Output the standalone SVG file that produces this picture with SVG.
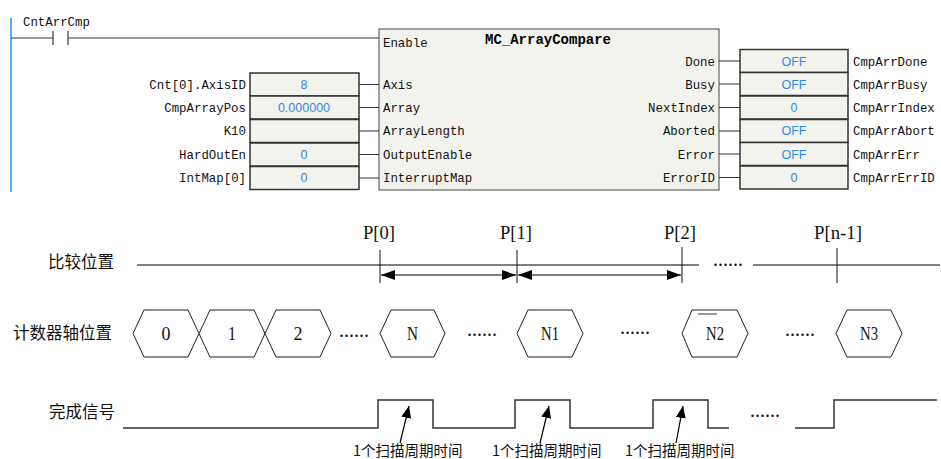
<svg xmlns="http://www.w3.org/2000/svg" width="941" height="459" viewBox="0 0 941 459">
<defs>
<style>
.mono{font-family:"Liberation Mono","DejaVu Sans Mono",monospace;font-size:12.4px;fill:#111}
.title{font-family:"Liberation Mono","DejaVu Sans Mono",monospace;font-size:14px;font-weight:bold;fill:#000}
.val{font-family:"Liberation Sans",Arial,sans-serif;font-size:12.5px;fill:#2f8ae8;text-anchor:middle}
.box{fill:#f3f3ee;stroke:#333;stroke-width:1.5}
.wire{stroke:#333;stroke-width:1;fill:none}
.cjk{font-family:"Noto Sans CJK SC","Noto Sans",sans-serif;font-size:16.5px;fill:#111}
.cjks{font-family:"Noto Sans CJK SC","Noto Sans",sans-serif;font-size:14.5px;fill:#111}
.ser{font-family:"Liberation Serif","Times New Roman",serif;font-size:19px;fill:#111;text-anchor:middle}
.dots{font-family:"Liberation Serif","Times New Roman",serif;font-size:20px;fill:#111}
.hex{fill:#fff;stroke:#222;stroke-width:1}
.tick{stroke:#111;stroke-width:1}
</style>
<marker id="ah" viewBox="0 0 14 10" refX="14" refY="5" markerWidth="14" markerHeight="10" markerUnits="userSpaceOnUse" orient="auto-start-reverse">
<path d="M0,0 L14,5 L0,10 Z" fill="#000"/>
</marker>
<marker id="ah2" viewBox="0 0 12 10" refX="12" refY="5" markerWidth="12" markerHeight="10" markerUnits="userSpaceOnUse" orient="auto">
<path d="M0,0 L12,5 L0,10 Z" fill="#000"/>
</marker>
</defs>
<rect width="941" height="459" fill="#fff"/>

<!-- Ladder -->
<g id="rail">
<line x1="11" y1="18" x2="11" y2="192" stroke="#1e90ff" stroke-width="1.5"/>
</g>
<g id="contact">
<text class="mono" x="23" y="26">CntArrCmp</text>
<line x1="53" y1="31" x2="53" y2="45" class="tick"/>
<line x1="68" y1="31" x2="68" y2="45" class="tick"/>
</g>

<g id="connectors">
<line class="wire" x1="11" y1="38" x2="53" y2="38"/>
<line class="wire" x1="68" y1="38" x2="379" y2="38"/>
<line class="wire" x1="359" y1="84.5" x2="379" y2="84.5"/>
<line class="wire" x1="359" y1="107.5" x2="379" y2="107.5"/>
<line class="wire" x1="359" y1="131" x2="379" y2="131"/>
<line class="wire" x1="359" y1="154.5" x2="379" y2="154.5"/>
<line class="wire" x1="359" y1="178" x2="379" y2="178"/>
<line class="wire" x1="719" y1="61" x2="740" y2="61"/>
<line class="wire" x1="719" y1="84" x2="740" y2="84"/>
<line class="wire" x1="719" y1="107.5" x2="740" y2="107.5"/>
<line class="wire" x1="719" y1="131" x2="740" y2="131"/>
<line class="wire" x1="719" y1="154" x2="740" y2="154"/>
<line class="wire" x1="719" y1="177.5" x2="740" y2="177.5"/>
</g>

<g id="fb">
<rect x="379" y="29" width="340" height="161" fill="#f3f3ee" stroke="#444" stroke-width="1"/>
<text class="title" x="548" y="44" text-anchor="middle">MC_ArrayCompare</text>
<text class="mono" x="383" y="47">Enable</text>
<text class="mono" x="383" y="89">Axis</text>
<text class="mono" x="383" y="112">Array</text>
<text class="mono" x="383" y="135">ArrayLength</text>
<text class="mono" x="383" y="159">OutputEnable</text>
<text class="mono" x="383" y="182">InterruptMap</text>
<g text-anchor="end">
<text class="mono" x="715" y="66">Done</text>
<text class="mono" x="715" y="89">Busy</text>
<text class="mono" x="715" y="112">NextIndex</text>
<text class="mono" x="715" y="135">Aborted</text>
<text class="mono" x="715" y="159">Error</text>
<text class="mono" x="715" y="182">ErrorID</text>
</g>
</g>

<g id="inputs">
<rect class="box" x="250" y="73" width="109" height="23"/>
<rect class="box" x="250" y="96" width="109" height="23"/>
<rect class="box" x="250" y="119.5" width="109" height="23"/>
<rect class="box" x="250" y="143" width="109" height="23"/>
<rect class="box" x="250" y="166.5" width="109" height="23"/>
<text class="val" x="304" y="89">8</text>
<text class="val" x="304" y="112">0.000000</text>
<text class="val" x="304" y="159">0</text>
<text class="val" x="304" y="182">0</text>
<g text-anchor="end">
<text class="mono" x="246" y="89">Cnt[0].AxisID</text>
<text class="mono" x="246" y="112">CmpArrayPos</text>
<text class="mono" x="246" y="135">K10</text>
<text class="mono" x="246" y="159">HardOutEn</text>
<text class="mono" x="246" y="182">IntMap[0]</text>
</g>
</g>

<g id="outputs">
<rect class="box" x="740" y="49.5" width="108" height="23"/>
<rect class="box" x="740" y="72.5" width="108" height="23"/>
<rect class="box" x="740" y="96" width="108" height="23"/>
<rect class="box" x="740" y="119.5" width="108" height="23"/>
<rect class="box" x="740" y="142.5" width="108" height="23"/>
<rect class="box" x="740" y="166" width="108" height="23"/>
<text class="val" x="794" y="66">OFF</text>
<text class="val" x="794" y="89">OFF</text>
<text class="val" x="794" y="112">0</text>
<text class="val" x="794" y="135">OFF</text>
<text class="val" x="794" y="159">OFF</text>
<text class="val" x="794" y="182">0</text>
<text class="mono" x="853" y="66">CmpArrDone</text>
<text class="mono" x="853" y="89">CmpArrBusy</text>
<text class="mono" x="853" y="112">CmpArrIndex</text>
<text class="mono" x="853" y="135">CmpArrAbort</text>
<text class="mono" x="853" y="159">CmpArrErr</text>
<text class="mono" x="853" y="182">CmpArrErrID</text>
</g>

<!-- Compare positions -->
<g id="compare">
<text class="cjk" x="48" y="268">比较位置</text>
<line x1="137" y1="265" x2="699" y2="265" stroke="#808080" stroke-width="2"/>
<line x1="753" y1="265" x2="940" y2="265" stroke="#808080" stroke-width="2"/>
<text class="dots" x="713" y="266">......</text>
<line class="tick" x1="380" y1="250" x2="380" y2="283"/>
<line class="tick" x1="517" y1="250" x2="517" y2="283"/>
<line class="tick" x1="682" y1="247" x2="682" y2="283"/>
<line class="tick" x1="837" y1="248" x2="837" y2="283"/>
<text class="ser" x="379" y="239" textLength="32" lengthAdjust="spacingAndGlyphs">P[0]</text>
<text class="ser" x="516" y="239" textLength="32" lengthAdjust="spacingAndGlyphs">P[1]</text>
<text class="ser" x="680" y="239" textLength="32" lengthAdjust="spacingAndGlyphs">P[2]</text>
<text class="ser" x="838" y="239" textLength="48" lengthAdjust="spacingAndGlyphs">P[n-1]</text>
<line x1="381" y1="275" x2="516" y2="275" stroke="#000" stroke-width="1.2" marker-start="url(#ah)" marker-end="url(#ah)"/>
<line x1="518" y1="275" x2="681" y2="275" stroke="#000" stroke-width="1.2" marker-start="url(#ah)" marker-end="url(#ah)"/>
</g>

<!-- Counter axis position -->
<g id="counter">
<text class="cjk" x="13" y="339">计数器轴位置</text>
<g id="hex0"><polygon class="hex" points="133,333.5 144,310 188,310 199,333.5 188,357 144,357"/><text class="ser" x="166" y="340" textLength="9" lengthAdjust="spacingAndGlyphs">0</text></g>
<g id="hex1"><polygon class="hex" points="199,333.5 210,310 254,310 265,333.5 254,357 210,357"/><text class="ser" x="232" y="340" textLength="8" lengthAdjust="spacingAndGlyphs">1</text></g>
<g id="hex2"><polygon class="hex" points="265,333.5 276,310 320,310 331,333.5 320,357 276,357"/><text class="ser" x="298" y="340" textLength="9" lengthAdjust="spacingAndGlyphs">2</text></g>
<text class="dots" x="339" y="337">......</text>
<g id="hexN"><polygon class="hex" points="380,333.5 391,310 434,310 445,333.5 434,357 391,357"/><text class="ser" x="412.5" y="340" textLength="11" lengthAdjust="spacingAndGlyphs">N</text></g>
<text class="dots" x="467" y="336">......</text>
<g id="hexN1"><polygon class="hex" points="517,333.5 528,310 572,310 583,333.5 572,357 528,357"/><text class="ser" x="550" y="340" textLength="18" lengthAdjust="spacingAndGlyphs">N1</text></g>
<text class="dots" x="620" y="334">......</text>
<g id="hexN2"><polygon class="hex" points="682,333.5 692,310 737,310 748,333.5 737,357 692,357"/><line x1="698" y1="314" x2="717" y2="314" stroke="#333" stroke-width="1"/><text class="ser" x="715" y="340" textLength="18" lengthAdjust="spacingAndGlyphs">N2</text></g>
<text class="dots" x="785" y="336">......</text>
<g id="hexN3"><polygon class="hex" points="836,333.5 847,310 891,310 902,333.5 891,357 847,357"/><text class="ser" x="869" y="340" textLength="18" lengthAdjust="spacingAndGlyphs">N3</text></g>
</g>

<!-- Done signal -->
<g id="done">
<text class="cjk" x="49" y="418">完成信号</text>
<path d="M123,428 H378 V400 H433 V428 H515 V400 H570 V428 H653 V400 H708 V428 H729" fill="none" stroke="#333" stroke-width="1.5"/>
<text class="dots" x="750" y="417">......</text>
<path d="M795,428 H834 V400 H937" fill="none" stroke="#333" stroke-width="1.5"/>
<line x1="400" y1="443" x2="409" y2="406" stroke="#000" stroke-width="1.2" marker-end="url(#ah2)"/>
<line x1="540" y1="443" x2="549" y2="406" stroke="#000" stroke-width="1.2" marker-end="url(#ah2)"/>
<line x1="676" y1="443" x2="683" y2="406" stroke="#000" stroke-width="1.2" marker-end="url(#ah2)"/>
<text class="cjks" x="353" y="456">1个扫描周期时间</text>
<text class="cjks" x="492" y="456">1个扫描周期时间</text>
<text class="cjks" x="625" y="456">1个扫描周期时间</text>
</g>
</svg>
